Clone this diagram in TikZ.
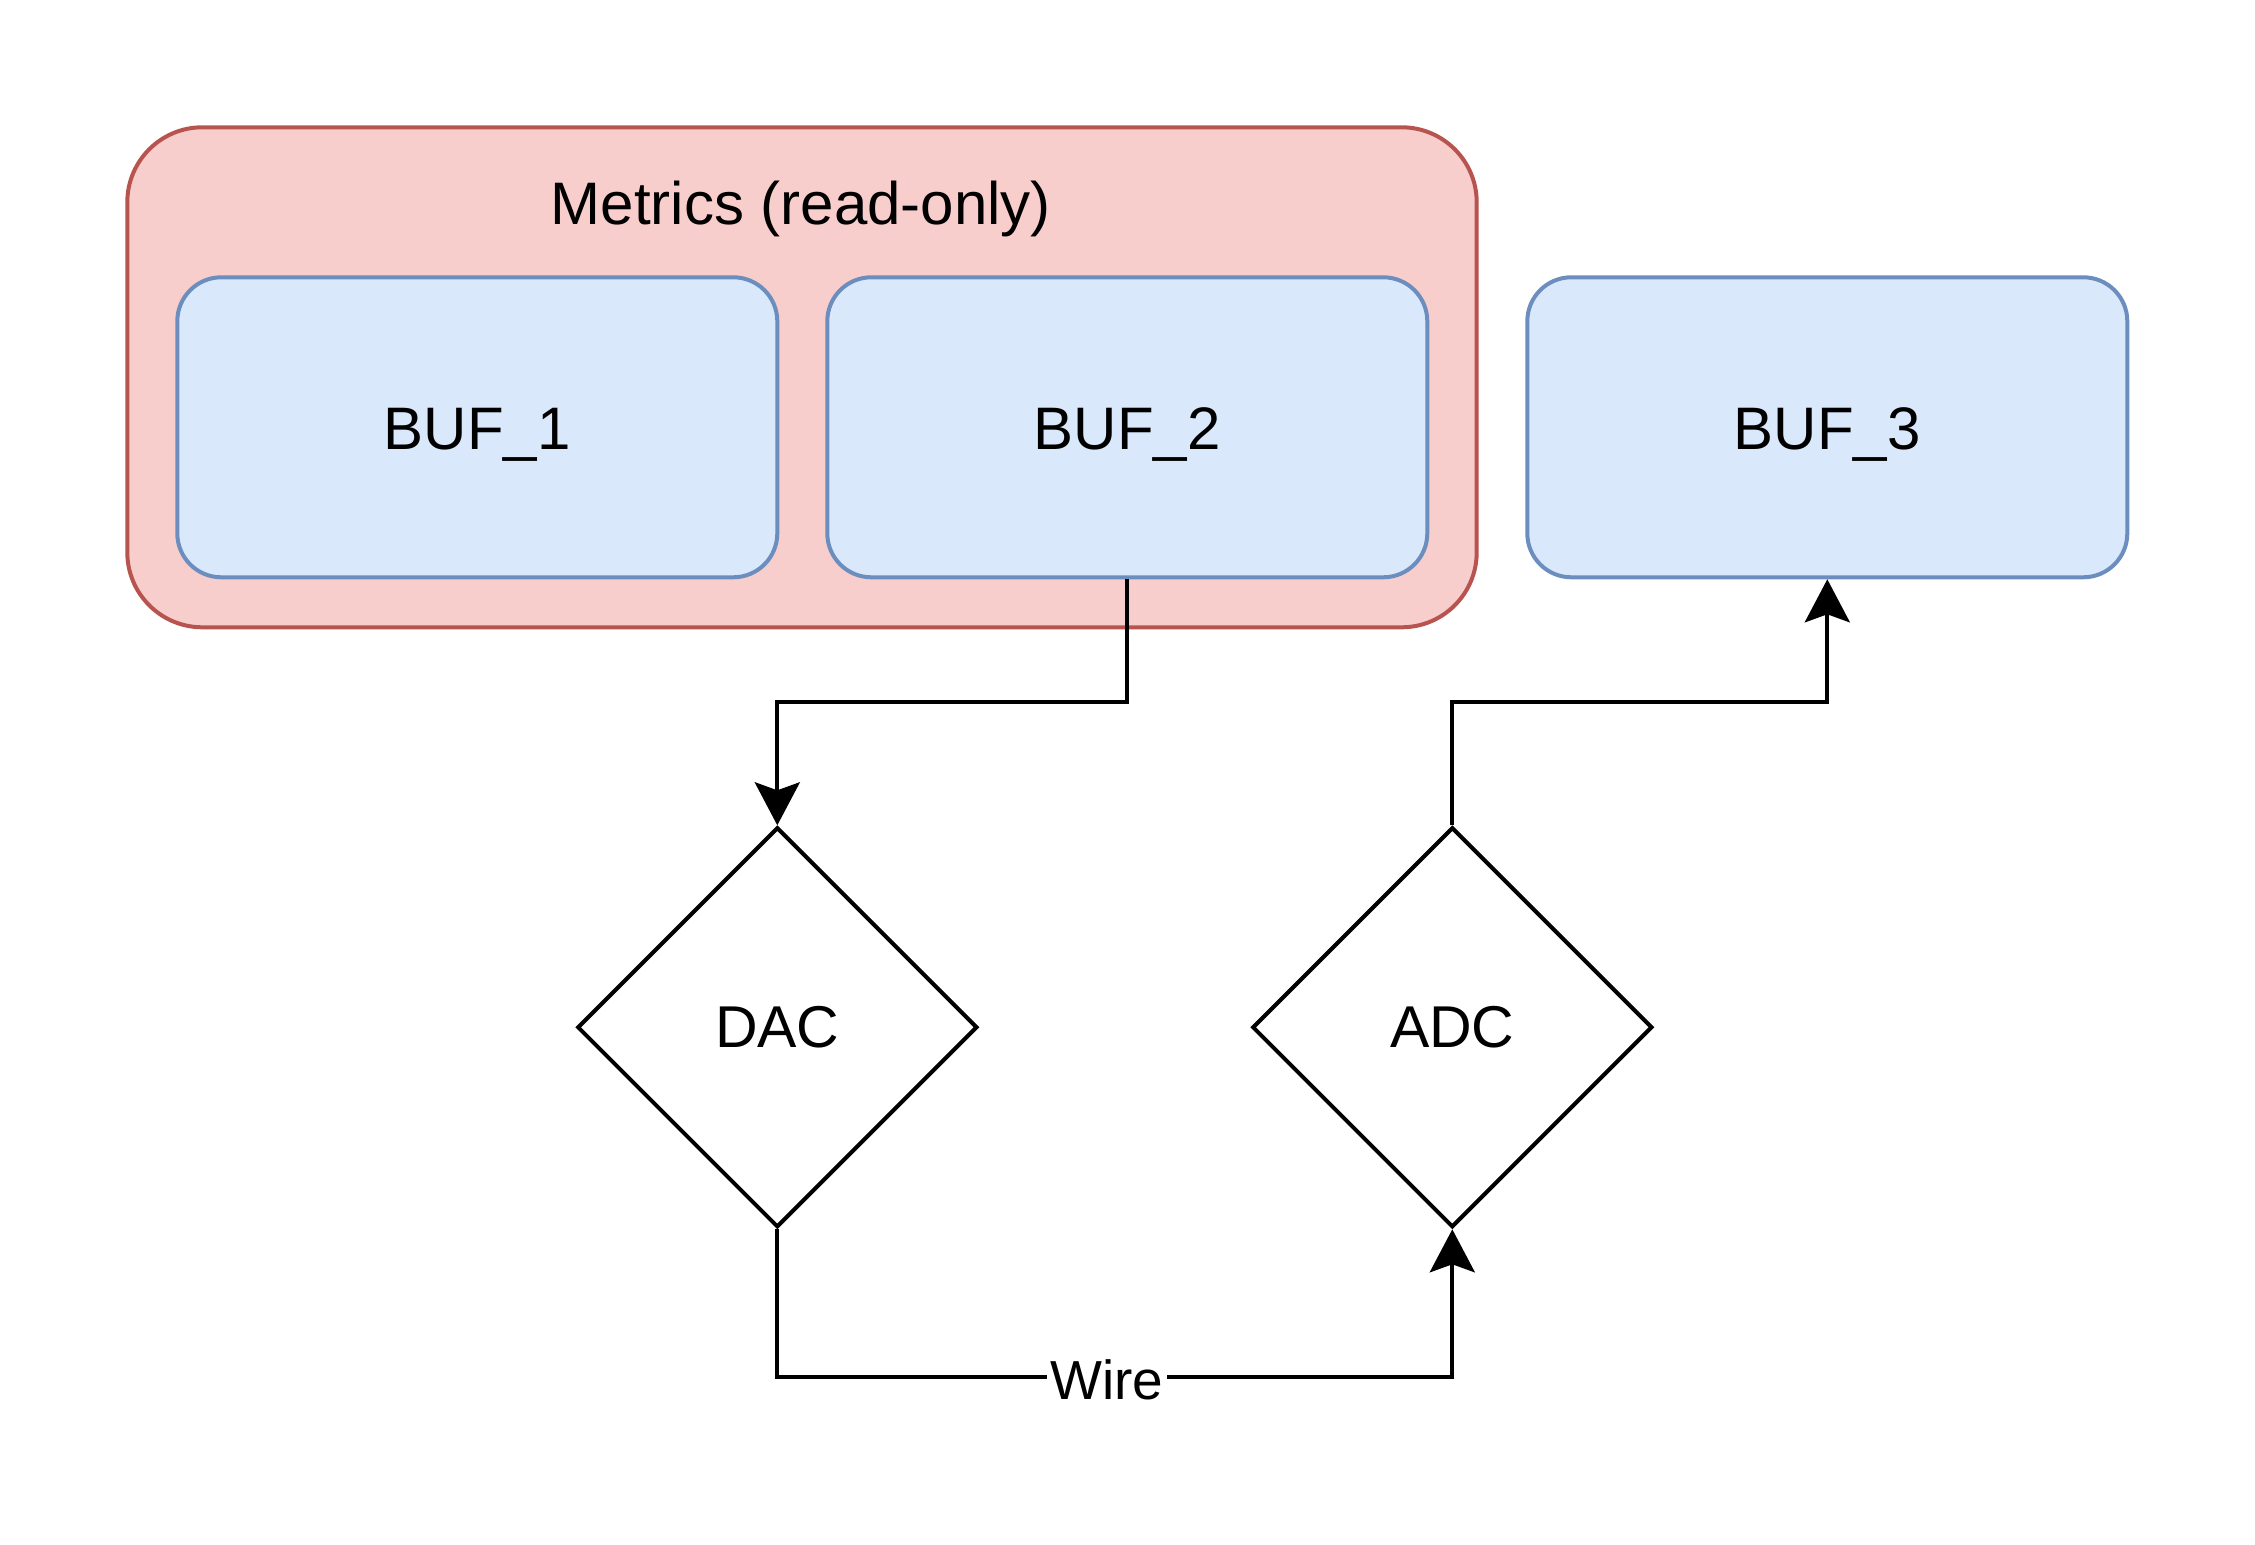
\documentclass[tikz,border=0pt]{standalone}
\usepackage{fontspec}
\setmainfont{Liberation Sans}
\usetikzlibrary{shapes.geometric,arrows.meta}
\definecolor{redfill}{HTML}{F8CECC}
\definecolor{redline}{HTML}{B85450}
\definecolor{bluefill}{HTML}{DAE8FC}
\definecolor{blueline}{HTML}{6C8EBF}
\tikzset{
  group/.style={draw=redline, fill=redfill, line width=2pt, rounded corners=37.5pt,
    minimum width=674.7pt, minimum height=250pt, inner sep=0pt},
  bufbox/.style={draw=blueline, fill=bluefill, line width=2pt, rounded corners=22pt,
    minimum width=300pt, minimum height=150pt, inner sep=0pt,
    font=\fontsize{30}{36}\selectfont, text height=23pt, text depth=1pt},
  convbox/.style={diamond, aspect=1, draw=black, line width=2pt,
    minimum width=200pt, minimum height=200pt, inner sep=0pt,
    font=\fontsize{29.5}{35}\selectfont, text height=21pt, text depth=1pt},
  wirelink/.style={draw=black, line width=2pt,
    -{Stealth[length=21.5pt, width=22.5pt, inset=4pt]}},
  grouplabel/.style={font=\fontsize{30}{36}\selectfont, inner sep=0pt},
  linklabel/.style={font=\fontsize{27.5}{33}\selectfont, fill=white, inner sep=1.5pt}
}
\begin{document}
\begin{tikzpicture}[x=0.5pt,y=-0.5pt]
\useasboundingbox (0,0) rectangle (2255,1545);
\node[group] (metrics) at (802,377.3) {};
\node[grouplabel, anchor=base] (metricslabel) at (801,225) {Metrics (read-only)};
\node[bufbox] (buf1) at (477.3,427.3) {BUF\_1};
\node[bufbox] (buf2) at (1127.3,427.3) {BUF\_2};
\node[bufbox] (buf3) at (1827.3,427.3) {BUF\_3};
\node[convbox] (dac) at (777.3,1027.3) {DAC};
\node[convbox] (adc) at (1452.3,1027.3) {ADC};
\coordinate (mid) at (0,702.3);
\coordinate (low) at (0,1377.3);
\draw[wirelink] (buf2.south) -- (buf2.south |- mid) -- (dac.north |- mid) -- (dac.north);
\draw[wirelink] (adc.north) -- (adc.north |- mid) -- (buf3.south |- mid) -- (buf3.south);
\draw[wirelink] (dac.south) -- (dac.south |- low) -- (adc.south |- low) -- (adc.south);
\node[linklabel] (wire) at (1107,1379.5) {Wire};
\end{tikzpicture}
\end{document}
